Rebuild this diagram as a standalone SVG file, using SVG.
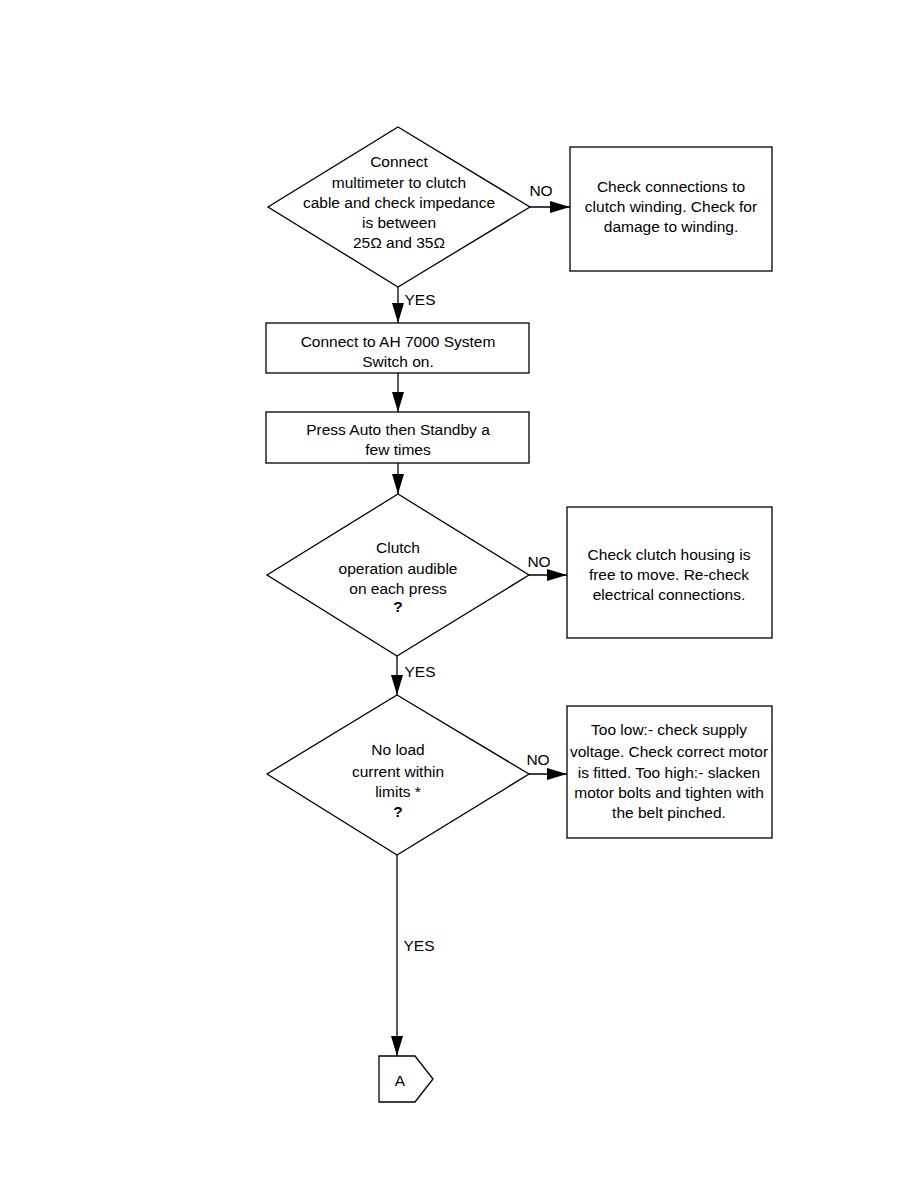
<svg xmlns="http://www.w3.org/2000/svg" width="918" height="1188" viewBox="0 0 918 1188">
<style>
.s{fill:#fff;stroke:#000;stroke-width:1.3}
.c{fill:none;stroke:#000;stroke-width:1.3}
text{font-family:"Liberation Sans",Arial,sans-serif;font-size:15.5px;fill:#000;text-anchor:middle}
</style>
<defs>
<marker id="ah" markerUnits="userSpaceOnUse" markerWidth="22" markerHeight="14" refX="20" refY="6" orient="auto">
<path d="M0,0 L20,6 L0,12 z" fill="#000"/>
</marker>
</defs>
<rect width="918" height="1188" fill="#fff"/>
<g id="connectors">
<line class="c" x1="530" y1="207" x2="570" y2="207" marker-end="url(#ah)"/>
<line class="c" x1="398" y1="287" x2="398" y2="323" marker-end="url(#ah)"/>
<line class="c" x1="398" y1="373" x2="398" y2="412" marker-end="url(#ah)"/>
<line class="c" x1="398" y1="463" x2="398" y2="494" marker-end="url(#ah)"/>
<line class="c" x1="529" y1="575" x2="567" y2="575" marker-end="url(#ah)"/>
<line class="c" x1="397" y1="656" x2="397" y2="695" marker-end="url(#ah)"/>
<line class="c" x1="529" y1="774" x2="567" y2="774" marker-end="url(#ah)"/>
<line class="c" x1="397" y1="855" x2="397" y2="1056" marker-end="url(#ah)"/>
<text x="541" y="196">NO</text>
<text x="420" y="305">YES</text>
<text x="539" y="567">NO</text>
<text x="420" y="677">YES</text>
<text x="538" y="765">NO</text>
<text x="419" y="951">YES</text>
</g>
<g id="d1">
<polygon class="s" points="398,127 530,207 398,287 268,207"/>
<text x="399" y="167">Connect</text>
<text x="399" y="188">multimeter to clutch</text>
<text x="399" y="208">cable and check impedance</text>
<text x="399" y="228">is between</text>
<text x="399" y="248">25Ω and 35Ω</text>
</g>
<g id="b1">
<rect class="s" x="570" y="147" width="202" height="124"/>
<text x="671" y="192">Check connections to</text>
<text x="671" y="212">clutch winding. Check for</text>
<text x="671" y="232">damage to winding.</text>
</g>
<g id="p1">
<rect class="s" x="266" y="323" width="263" height="50"/>
<text x="398" y="347">Connect to AH 7000 System</text>
<text x="398" y="367">Switch on.</text>
</g>
<g id="p2">
<rect class="s" x="266" y="412" width="263" height="51"/>
<text x="398" y="435">Press Auto then Standby a</text>
<text x="398" y="455">few times</text>
</g>
<g id="d2">
<polygon class="s" points="398,494 529,575 397,656 267,575"/>
<text x="398" y="553">Clutch</text>
<text x="398" y="574">operation audible</text>
<text x="398" y="594">on each press</text>
<text x="398" y="612" font-weight="bold">?</text>
</g>
<g id="b2">
<rect class="s" x="567" y="507" width="205" height="131"/>
<text x="669" y="560">Check clutch housing is</text>
<text x="669" y="580">free to move. Re-check</text>
<text x="669" y="600">electrical connections.</text>
</g>
<g id="d3">
<polygon class="s" points="397,695 529,774 397,855 267,774"/>
<text x="398" y="755">No load</text>
<text x="398" y="777">current within</text>
<text x="398" y="797">limits *</text>
<text x="398" y="817" font-weight="bold">?</text>
</g>
<g id="b3">
<rect class="s" x="567" y="706" width="205" height="132"/>
<text x="669" y="735">Too low:- check supply</text>
<text x="669" y="757">voltage. Check correct motor</text>
<text x="669" y="778">is fitted. Too high:- slacken</text>
<text x="669" y="798">motor bolts and tighten with</text>
<text x="669" y="818">the  belt pinched.</text>
</g>
<g id="A">
<polygon class="s" points="379,1056 415,1056 433,1079 415,1102 379,1102"/>
<text x="400" y="1086">A</text>
</g>
</svg>
